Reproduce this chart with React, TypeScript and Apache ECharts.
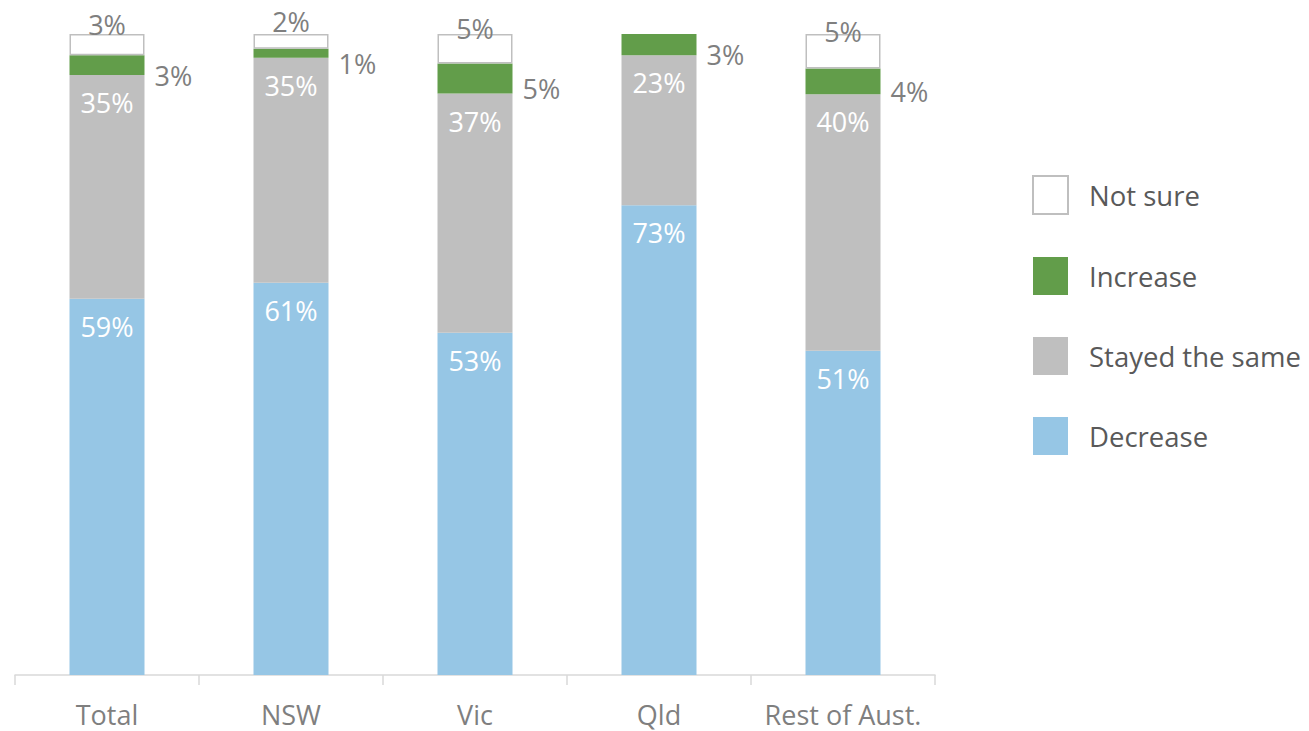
import React, { useEffect, useRef } from "react";
import * as echarts from "echarts";

const categories = ["Total", "NSW", "Vic", "Qld", "Rest of Aust."];
const decrease = [58.7, 61.2, 53.4, 73.3, 50.6];
const stayedSame = [34.9, 35.1, 37.3, 23.4, 40.0];
const increase = [3.1, 1.4, 4.7, 3.3, 4.0];
const notSure = [3.3, 2.3, 4.6, 0, 5.4];
const legendOrder = ["Not sure", "Increase", "Stayed the same", "Decrease"];

const FONT = "'Open Sans', 'Noto Sans', sans-serif";
const pct = (p: any) => (p.value > 0 ? Math.round(p.value) + "%" : "");
const nonZero = (arr: number[]) => arr.map((v) => (v === 0 ? "-" : v));

export default function App() {
  const ref = useRef<HTMLDivElement>(null);
  useEffect(() => {
    if (!ref.current) return;
    const chart = echarts.init(ref.current, null, { renderer: "svg" });
    const inLabel = {
      show: true,
      position: "insideTop" as const,
      distance: 14,
      color: "#FFFFFF",
      fontSize: 27,
      fontFamily: FONT,
      formatter: pct,
    };
    chart.setOption({
      animation: false,
      backgroundColor: "#FFFFFF",
      textStyle: { fontFamily: FONT },
      grid: { left: 15, right: 374, top: 34, bottom: 56, containLabel: false },
      legend: {
        orient: "vertical",
        left: 1032,
        top: 175,
        padding: 0,
        icon: "rect",
        itemWidth: 35,
        itemHeight: 38,
        itemGap: 42,
        data: legendOrder,
        selectedMode: false,
        textStyle: {
          fontSize: 27.5,
          color: "#595959",
          fontFamily: FONT,
          padding: [0, 0, 8, 16],
        },
      },
      xAxis: {
        type: "category",
        data: categories,
        axisLine: { show: true, lineStyle: { color: "#D9D9D9", width: 1.5 } },
        axisTick: { show: true, interval: 0, length: 10, alignWithLabel: false, lineStyle: { color: "#D9D9D9", width: 1.5 } },
        axisLabel: { interval: 0, color: "#7F7F7F", fontSize: 27, lineHeight: 26, fontFamily: FONT, margin: 26 },
      },
      yAxis: { type: "value", min: 0, max: 100, show: false, splitLine: { show: false } },
      series: [
        {
          name: "Decrease",
          type: "bar",
          stack: "s",
          barWidth: 75,
          data: decrease,
          itemStyle: { color: "#96C6E5" },
          label: inLabel,
        },
        {
          name: "Stayed the same",
          type: "bar",
          stack: "s",
          barWidth: 75,
          data: stayedSame,
          itemStyle: { color: "#BFBFBF" },
          label: inLabel,
        },
        {
          name: "Increase",
          type: "bar",
          stack: "s",
          barWidth: 75,
          data: increase,
          itemStyle: { color: "#629D4A" },
          label: {
            show: true,
            position: "right",
            distance: 10,
            offset: [0, 10],
            color: "#7F7F7F",
            fontSize: 27,
            fontFamily: FONT,
            formatter: pct,
          },
        },
        {
          name: "Not sure",
          type: "bar",
          stack: "s",
          barWidth: 75,
          data: nonZero(notSure),
          itemStyle: { color: "#FFFFFF", borderColor: "#BFBFBF", borderWidth: 1.5 },
          label: {
            show: true,
            position: "inside",
            offset: [0, -20],
            color: "#7F7F7F",
            fontSize: 27,
            fontFamily: FONT,
            formatter: pct,
          },
        },
      ],
    });
    return () => chart.dispose();
  }, []);
  return (
    <div
      ref={ref}
      style={{ position: "absolute", left: 0, top: 0, width: 1309, height: 731 }}
    />
  );
}
